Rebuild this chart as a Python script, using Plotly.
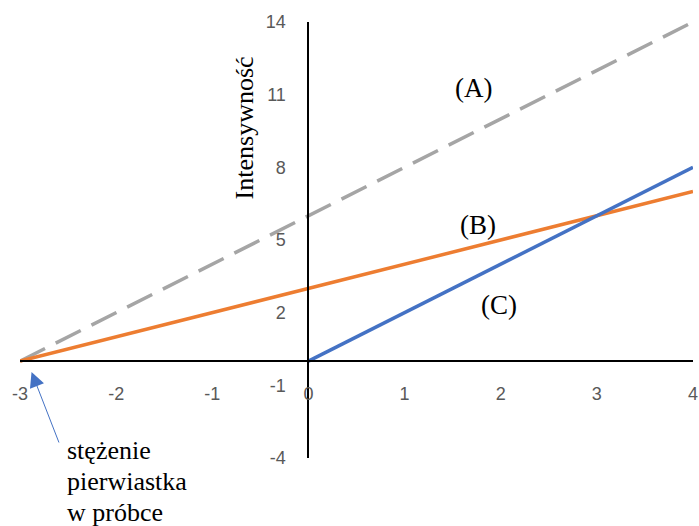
import plotly.graph_objects as go

# Data
x_A = [-3, 4]
y_A = [0, 14]
x_B = [-3, 4]
y_B = [0, 7]
x_C = [0, 4]
y_C = [0, 8]
x_ticks = [-3, -2, -1, 0, 1, 2, 3, 4]
y_ticks = [-4, -1, 2, 5, 8, 11, 14]
labels = ["(A)", "(B)", "(C)"]
label_x = [1.72, 1.76, 1.98]
label_y = [11.28, 5.62, 2.32]
y_title = "Intensywność"
note_lines = ["stężenie", "pierwiastka", "w próbce"]

serif = "Liberation Serif, Times New Roman, serif"

fig = go.Figure()
fig.add_trace(go.Scatter(x=x_A, y=y_A, mode="lines",
                         line=dict(color="#A5A5A5", width=3.5, dash="28px,12px"),
                         showlegend=False, hoverinfo="skip"))
fig.add_trace(go.Scatter(x=x_B, y=y_B, mode="lines",
                         line=dict(color="#ED7D31", width=3.5),
                         showlegend=False, hoverinfo="skip"))
fig.add_trace(go.Scatter(x=x_C, y=y_C, mode="lines",
                         line=dict(color="#4472C4", width=3.5),
                         showlegend=False, hoverinfo="skip"))

annotations = []
for t, lx, ly in zip(labels, label_x, label_y):
    annotations.append(dict(x=lx, y=ly, xref="x", yref="y", text=t, showarrow=False,
                            font=dict(family=serif, size=27, color="black")))
annotations.append(dict(x=-0.667, y=9.62, xref="x", yref="y", text=y_title,
                        textangle=-90, showarrow=False,
                        font=dict(family=serif, size=26, color="black")))
note_y = [0.0178, -0.0533, -0.1244]
for t, ny in zip(note_lines, note_y):
    annotations.append(dict(x=0.0667, y=ny, xref="paper", yref="paper", text=t,
                            xanchor="left", yanchor="middle", showarrow=False,
                            font=dict(family=serif, size=26, color="black")))
annotations.append(dict(x=-2.88, y=-0.45, xref="x", yref="y", text="",
                        showarrow=True, ax=28, ay=72, axref="pixel", ayref="pixel",
                        arrowhead=2, arrowsize=3, arrowwidth=1, arrowcolor="#4472C4"))

tickfont = dict(family="Liberation Sans, Arial, sans-serif", size=18, color="#595959")

fig.update_layout(
    width=699, height=526,
    margin=dict(l=20, r=1, t=22, b=68),
    paper_bgcolor="white", plot_bgcolor="white",
    annotations=annotations,
    xaxis=dict(range=[-3, 4], domain=[0, 1], anchor="free", position=4 / 18,
               tickvals=x_ticks, ticktext=[str(v) for v in x_ticks],
               showline=True, linecolor="black", linewidth=2,
               showgrid=False, zeroline=False, ticklabeloverflow="allow",
               ticks="outside", ticklen=16, tickcolor="rgba(0,0,0,0)",
               tickfont=tickfont),
    yaxis=dict(range=[-4, 14], domain=[0, 1], anchor="free", position=3 / 7,
               tickvals=y_ticks, ticktext=[str(v) for v in y_ticks],
               showline=True, linecolor="black", linewidth=2,
               showgrid=False, zeroline=False, ticklabeloverflow="allow",
               ticks="outside", ticklen=18, tickcolor="rgba(0,0,0,0)",
               tickfont=tickfont),
)

fig.write_html("out.html", config={"displayModeBar": False},
               post_script="document.body.style.margin='0';document.body.style.overflow='hidden';")
